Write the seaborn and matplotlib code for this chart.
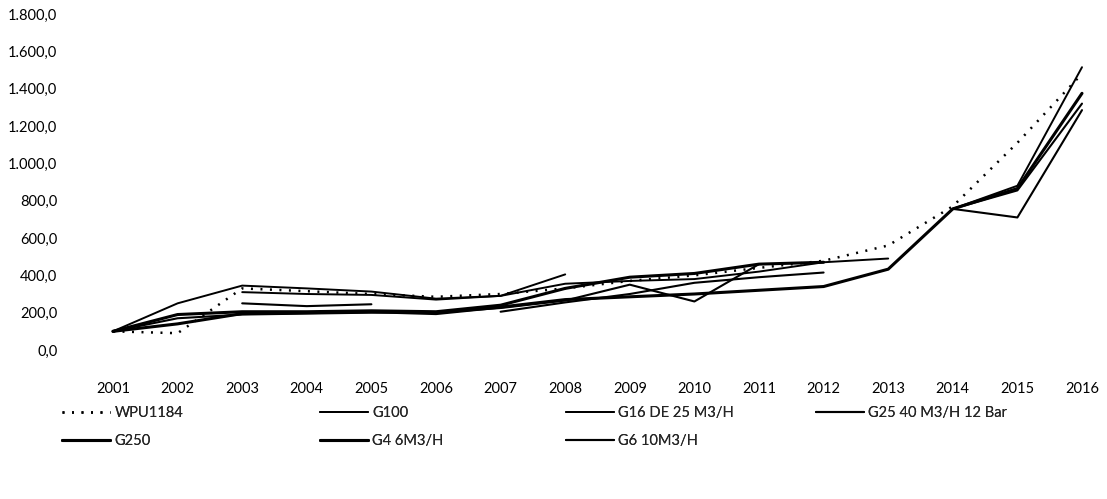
import numpy as np
import pandas as pd
import matplotlib
matplotlib.use("Agg")
import matplotlib.pyplot as plt
from matplotlib.lines import Line2D
from matplotlib.ticker import FuncFormatter
import seaborn as sns

nan = np.nan
years = list(range(2001, 2017))
wpu1184 = [100, 90, 330, 315, 300, 285, 300, 330, 370, 400, 440, 478, 560, 770, 1110, 1480]
g100 = [100, 250, 345, 330, 313, 275, 290, 405, nan, nan, nan, nan, nan, 756, 880, 1515]
g16 = [nan, nan, 310, 300, 295, 270, 290, 355, 370, 380, 420, 470, 490, nan, nan, nan]
g25 = [nan, nan, 250, 235, 245, nan, 205, 255, 300, 360, 390, 415, nan, 756, 855, 1320]
g250 = [100, 190, 205, 205, 210, 205, 240, 330, 390, 410, 460, 470, nan, nan, nan, nan]
g4 = [100, 140, 195, 200, 205, 195, 230, 270, 285, 300, 320, 340, 433, 756, 865, 1375]
g6 = [100, 170, 190, 195, 200, 200, 225, 265, 350, 260, 460, nan, nan, 756, 710, 1285]

series_names = ["WPU1184", "G100", "G16 DE 25 M3/H", "G25 40 M3/H 12 Bar",
                "G250", "G4 6M3/H", "G6 10M3/H"]
series_values = [wpu1184, g100, g16, g25, g250, g4, g6]
yticks = [0, 200, 400, 600, 800, 1000, 1200, 1400, 1600, 1800]

styles = {
    "WPU1184": dict(lw=1.8, ls=(0, (0.8, 3.0))),
    "G100": dict(lw=1.4, ls="-"),
    "G16 DE 25 M3/H": dict(lw=1.4, ls="-"),
    "G25 40 M3/H 12 Bar": dict(lw=1.5, ls="-"),
    "G250": dict(lw=2.2, ls="-"),
    "G4 6M3/H": dict(lw=2.2, ls="-"),
    "G6 10M3/H": dict(lw=1.5, ls="-"),
}

sns.set_theme(style="white")
plt.rcParams["font.family"] = ["Lato", "DejaVu Sans"]

fig = plt.figure(figsize=(11.07, 4.99), dpi=100)
ax = fig.add_axes([113 / 1107, 1 - 350 / 499, (1082 - 113) / 1107, (350 - 14) / 499])

for name, vals in zip(series_names, series_values):
    df = pd.DataFrame({"year": years, "value": vals})
    df["seg"] = df["value"].isna().cumsum()
    df = df.dropna()
    st = styles[name]
    for _, part in df.groupby("seg"):
        if len(part) < 2:
            continue
        sns.lineplot(data=part, x="year", y="value", ax=ax, color="black",
                     linewidth=st["lw"], linestyle=st["ls"], estimator=None,
                     sort=False, clip_on=False)

ax.set_xlim(2001, 2016)
ax.set_ylim(0, 1800)
ax.set_xticks(years)
ax.set_xticklabels([str(y) for y in years])
ax.set_yticks(yticks)
ax.yaxis.set_major_formatter(FuncFormatter(
    lambda v, p: f"{v:,.1f}".replace(",", "X").replace(".", ",").replace("X", ".")))
ax.set_xlabel("")
ax.set_ylabel("")
for s in ax.spines.values():
    s.set_visible(False)
ax.grid(False)
ax.tick_params(axis="both", length=0, labelsize=10.5, colors="black")
ax.tick_params(axis="y", pad=40)
ax.tick_params(axis="x", pad=23)

# legend: four columns placed like the original
cols = [
    (62, ["WPU1184", "G250"]),
    (320, ["G100", "G4 6M3/H"]),
    (566, ["G16 DE 25 M3/H", "G6 10M3/H"]),
    (816, ["G25 40 M3/H 12 Bar"]),
]
for x0, names in cols:
    handles = [Line2D([0], [0], color="black", lw=styles[n]["lw"], ls=styles[n]["ls"]) for n in names]
    leg = fig.legend(handles, names, loc="upper left",
                     bbox_to_anchor=(x0 / 1107, 1 - 406 / 499),
                     frameon=False, fontsize=10.5, handlelength=3.3,
                     handletextpad=0.3, labelspacing=0.95, borderaxespad=0,
                     borderpad=0)
    fig.add_artist(leg)

fig.savefig("out.png", dpi=100, facecolor="white")
